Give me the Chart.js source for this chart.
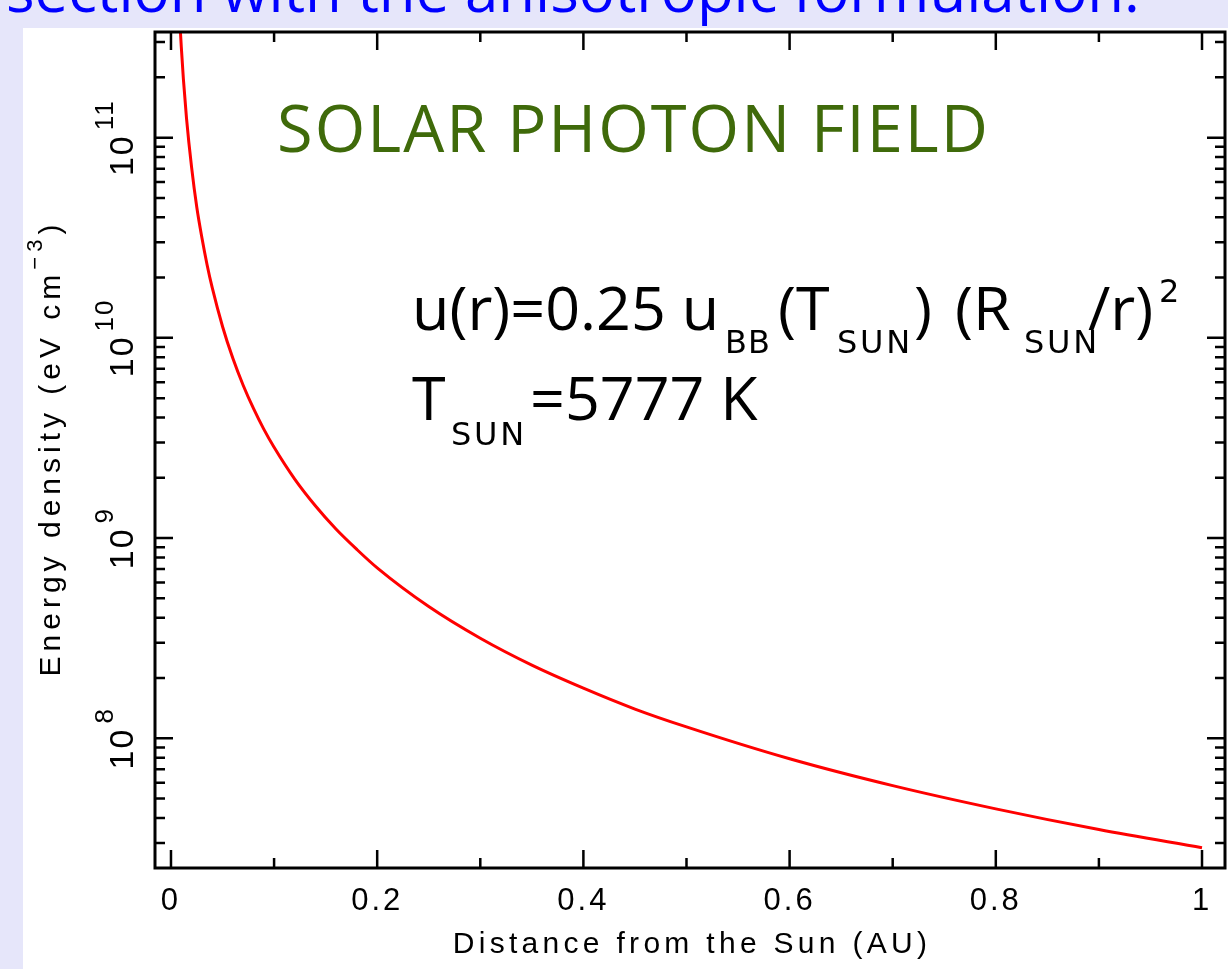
<!DOCTYPE html>
<html>
<head>
<meta charset="utf-8">
<script src="https://cdn.jsdelivr.net/npm/chart.js@4.4.0/dist/chart.umd.min.js"></script>
<style>
  html, body { margin: 0; padding: 0; width: 1228px; height: 969px; overflow: hidden; background: #e6e6fa; }
  #panel { position: absolute; left: 23px; top: 28px; right: 0; bottom: 0; background: #ffffff; }
  #myChart { position: absolute; left: 0; top: 0; }
</style>
</head>
<body>
<div id="panel"></div>
<canvas id="myChart" width="1228" height="969"></canvas>
<script>
// values
const distanceAU = [0.009, 0.01, 0.012, 0.015, 0.02, 0.025, 0.03, 0.035, 0.04, 0.05, 0.06, 0.07, 0.08, 0.09, 0.1,
  0.12, 0.14, 0.16, 0.18, 0.2, 0.25, 0.3, 0.35, 0.4, 0.45, 0.5, 0.6, 0.7, 0.8, 0.9, 1.0];
const energyDensity = [3.5e11, 2.84e11, 1.97e11, 1.26e11, 7.1e10, 4.5e10, 3.16e10, 2.32e10, 1.78e10, 1.14e10, 7.9e9,
  5.8e9, 4.44e9, 3.5e9, 2.84e9, 1.97e9, 1.45e9, 1.11e9, 8.8e8, 7.1e8, 4.55e8, 3.16e8, 2.32e8, 1.78e8, 1.4e8,
  1.14e8, 7.9e7, 5.8e7, 4.44e7, 3.5e7, 2.84e7];

const xTicks = [0, 0.2, 0.4, 0.6, 0.8, 1];
const xTickLabels = ['0', '0.2', '0.4', '0.6', '0.8', '1'];
const xMinorTicks = [0.1, 0.3, 0.5, 0.7, 0.9];
const yDecades = [8, 9, 10, 11];

const headerText = 'section with the anisotropic formulation.';
const plotTitle = 'SOLAR PHOTON FIELD';
const xTitle = 'Distance from the Sun (AU)';

const points = distanceAU.map((r, i) => ({x: r, y: energyDensity[i]}));

const AXIS_FONT = "'Liberation Sans', Arial, sans-serif";
const NOTE_FONT = "'Open Sans', sans-serif";
const SUB_FONT = "'DejaVu Sans', sans-serif";

// draws a run of text pieces: [text, isSub, dy, x]
function drawPieces(ctx, pieces, baseX, baseY, big, small) {
  pieces.forEach(p => {
    if (p[1]) {
      ctx.font = small;
      ctx.letterSpacing = '0px';
      const w = ctx.measureText(p[0]).width;
      const target = p[0] === 'SUN' ? 76 : (p[0] === 'BB' ? 46 : w);
      ctx.letterSpacing = Math.max(0, (target - w) / p[0].length) + 'px';
    } else {
      ctx.font = big;
      ctx.letterSpacing = '0px';
    }
    ctx.fillText(p[0], baseX + p[3], baseY + p[2]);
  });
  ctx.letterSpacing = '0px';
}

const decor = {
  id: 'decor',
  beforeDraw(chart) {
    const ctx = chart.ctx;
    ctx.save();
    ctx.font = '60px ' + NOTE_FONT;
    ctx.fillStyle = '#0000ff';
    ctx.textBaseline = 'alphabetic';
    ctx.fillText(headerText, 6, 12);
    ctx.restore();
    ctx.letterSpacing = '3px';
  },
  afterDraw(chart) {
    const {ctx, chartArea: a, scales: {x, y}} = chart;
    ctx.save();
    ctx.letterSpacing = '0px';
    ctx.strokeStyle = '#000';
    ctx.lineWidth = 2.5;
    const major = 18, minor = 10;
    ctx.beginPath();
    xTicks.concat(xMinorTicks).forEach(v => {
      const px = x.getPixelForValue(v);
      const len = xTicks.includes(v) ? major : minor;
      ctx.moveTo(px, a.bottom); ctx.lineTo(px, a.bottom - len);
      ctx.moveTo(px, a.top); ctx.lineTo(px, a.top + len);
    });
    for (let e = 7; e <= 11; e++) {
      for (let m = 1; m <= 9; m++) {
        const v = m * Math.pow(10, e);
        if (v < y.min || v > y.max) continue;
        const py = y.getPixelForValue(v);
        const len = m === 1 ? major : minor;
        ctx.moveTo(a.left, py); ctx.lineTo(a.left + len, py);
        ctx.moveTo(a.right, py); ctx.lineTo(a.right - len, py);
      }
    }
    ctx.stroke();
    ctx.lineWidth = 3;
    ctx.strokeRect(a.left, a.top, a.right - a.left, a.bottom - a.top);

    ctx.fillStyle = '#000';
    ctx.textBaseline = 'alphabetic';
    ctx.textAlign = 'left';

    // y tick labels 10^n, rotated
    yDecades.forEach(e => {
      const py = y.getPixelForValue(Math.pow(10, e));
      ctx.save();
      ctx.translate(133, py);
      ctx.rotate(-Math.PI / 2);
      ctx.letterSpacing = '2px';
      ctx.font = '34px ' + AXIS_FONT;
      const w1 = ctx.measureText('10').width + 4;
      ctx.font = '26px ' + AXIS_FONT;
      const w2 = ctx.measureText(String(e)).width;
      const start = -(w1 + w2) / 2;
      ctx.font = '34px ' + AXIS_FONT;
      ctx.fillText('10', start, 0);
      ctx.font = '26px ' + AXIS_FONT;
      ctx.fillText(String(e), start + w1, -20);
      ctx.restore();
    });

    // x title
    ctx.save();
    ctx.letterSpacing = '4.3px';
    ctx.font = '30px ' + AXIS_FONT;
    ctx.textAlign = 'center';
    ctx.fillText(xTitle, (a.left + a.right) / 2 + 2, 953);
    ctx.restore();

    // y title with superscript
    ctx.save();
    ctx.translate(60, (a.top + a.bottom) / 2 - 2);
    ctx.rotate(-Math.PI / 2);
    ctx.letterSpacing = '5px';
    ctx.font = '30px ' + AXIS_FONT;
    const t1 = 'Energy density (eV cm';
    const wa = ctx.measureText(t1).width;
    ctx.font = '22px ' + AXIS_FONT;
    const wb = ctx.measureText('\u22123').width;
    ctx.font = '30px ' + AXIS_FONT;
    const wc = ctx.measureText(')').width;
    let sx = -(wa + wb + wc) / 2;
    ctx.fillText(t1, sx, 0);
    ctx.font = '22px ' + AXIS_FONT;
    ctx.fillText('\u22123', sx + wa, -18);
    ctx.font = '30px ' + AXIS_FONT;
    ctx.fillText(')', sx + wa + wb, 0);
    ctx.restore();

    // annotations
    ctx.save();
    ctx.fillStyle = '#3f6a0a';
    ctx.letterSpacing = '2px';
    ctx.font = '65px ' + NOTE_FONT;
    ctx.fillText(plotTitle, 277, 152);
    ctx.restore();

    ctx.save();
    ctx.fillStyle = '#000';
    ctx.font = '100px ' + NOTE_FONT;
    const mainSize = 100 * 307 / ctx.measureText('u(r)=0.25 u').width;
    const big = mainSize.toFixed(1) + 'px ' + NOTE_FONT, small = '32px ' + SUB_FONT;
    drawPieces(ctx, [
      ['u(r)=0.25 u', false, 0, 0],
      ['BB', true, 23, 313],
      ['(T', false, 0, 366],
      ['SUN', true, 23, 425],
      [')', false, 0, 502],
      ['(R', false, 0, 543],
      ['SUN', true, 23, 612],
      ['/r)', false, 0, 676],
      ['2', true, -28, 747]
    ], 412, 330, big, small);
    drawPieces(ctx, [
      ['T', false, 0, 0],
      ['SUN', true, 25, 39],
      ['=5777 K', false, 0, 118]
    ], 412, 420, big, small);
    ctx.restore();

    ctx.restore();
  }
};

const config = {
  type: 'line',
  data: {
    datasets: [{
      data: points,
      borderColor: '#ff0000',
      borderWidth: 3,
      pointRadius: 0,
      fill: false,
      cubicInterpolationMode: 'monotone'
    }]
  },
  options: {
    responsive: false,
    animation: false,
    layout: { padding: { left: 155, top: 32, right: 3, bottom: 0 } },
    plugins: { legend: { display: false }, tooltip: { enabled: false }, title: { display: false } },
    scales: {
      x: {
        type: 'linear',
        min: -0.0155,
        max: 1.0223,
        grid: { display: false, drawTicks: false },
        border: { display: false },
        afterBuildTicks: s => { s.ticks = xTicks.map(v => ({value: v})); },
        afterFit: s => { s.height = 101; },
        ticks: {
          color: '#000',
          padding: 15,
          maxRotation: 0,
          autoSkip: false,
          font: { family: AXIS_FONT, size: 31 },
          callback: (v) => xTickLabels[xTicks.indexOf(v)]
        }
      },
      y: {
        type: 'logarithmic',
        min: 2.25e7,
        max: 3.37e11,
        display: false
      }
    }
  },
  plugins: [decor]
};

let myChart = new Chart(document.getElementById('myChart'), config);
</script>
</body>
</html>
